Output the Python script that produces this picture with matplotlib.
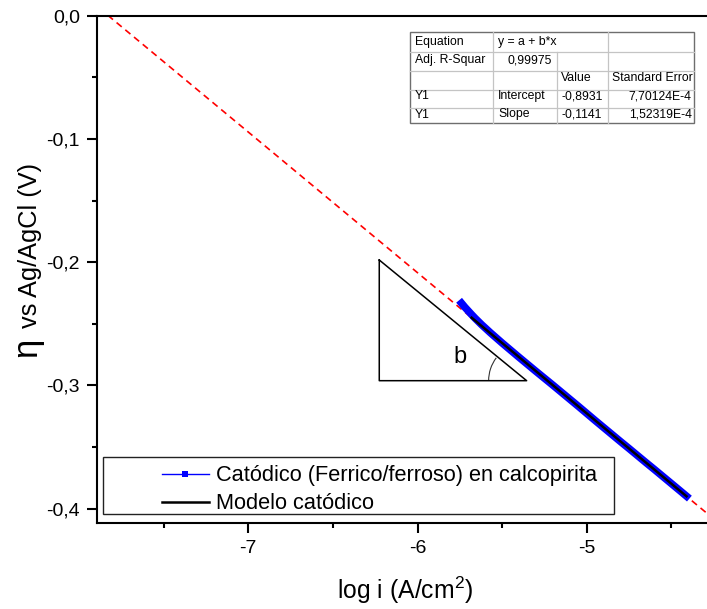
import matplotlib
matplotlib.use('Agg')
import matplotlib.pyplot as plt
from matplotlib.patches import Rectangle, Arc
from matplotlib.lines import Line2D

plt.rcParams['font.family'] = ['Liberation Sans', 'DejaVu Sans']
plt.rcParams['mathtext.fontset'] = 'custom'
plt.rcParams['mathtext.rm'] = 'Liberation Sans'
plt.rcParams['mathtext.it'] = 'Liberation Sans:italic'
plt.rcParams['mathtext.bf'] = 'Liberation Sans:bold'

# ---------------- data ----------------
log_i = [-5.74, -5.72, -5.70, -5.68, -5.66, -5.64, -5.62, -5.60, -5.57, -5.54,
         -5.50, -5.45, -5.40, -5.35, -5.30, -5.25, -5.20, -5.15, -5.10, -5.05,
         -5.00, -4.95, -4.90, -4.85, -4.80, -4.75, -4.70, -4.65, -4.60, -4.55,
         -4.50, -4.45, -4.41]
eta = [-0.2332, -0.2365, -0.2395, -0.2425, -0.2454, -0.2481, -0.2508, -0.2533,
       -0.2571, -0.2607, -0.2655, -0.2713, -0.2771, -0.2828, -0.2885, -0.2941,
       -0.2997, -0.3054, -0.3111, -0.3168, -0.3226, -0.3284, -0.3341, -0.3398,
       -0.3455, -0.3511, -0.3568, -0.3625, -0.3681, -0.3738, -0.3795, -0.3852,
       -0.3898]
model_log_i = [-5.68, -4.41]
model_eta = [-0.2450, -0.3899]
fit_log_i = [-7.83, -4.29]
fit_eta = [0.0003, -0.4036]
triangle_log_i = [-6.226, -6.226, -5.355, -6.226]
triangle_eta = [-0.1982, -0.2961, -0.2961, -0.1982]

x_ticks = [-7, -6, -5]
x_tick_labels = ['-7', '-6', '-5']
x_minor = [-7.5, -6.5, -5.5, -4.5]
y_ticks = [0.0, -0.1, -0.2, -0.3, -0.4]
y_tick_labels = ['0,0', '-0,1', '-0,2', '-0,3', '-0,4']
y_minor = [-0.05, -0.15, -0.25, -0.35]

legend_labels = ['Catódico (Ferrico/ferroso) en calcopirita', 'Modelo catódico']

table_rows = [
    ['Equation', 'y = a + b*x', '', ''],
    ['Adj. R-Squar', '0,99975', '', ''],
    ['', '', 'Value', 'Standard Error'],
    ['Y1', 'Intercept', '-0,8931', '7,70124E-4'],
    ['Y1', 'Slope', '-0,1141', '1,52319E-4'],
]

# ---------------- figure ----------------
W, H = 707, 609
fig = plt.figure(figsize=(W / 100, H / 100), dpi=100)


def fx(x):
    return x / W


def fy(y):
    return 1 - y / H


ax_l, ax_t, ax_b = 96.7, 15.7, 523.3
ax = fig.add_axes([fx(ax_l), fy(ax_b), 1 - fx(ax_l), (ax_b - ax_t) / H])
ax.set_xlim(-7.896, -4.289)
ax.set_ylim(-0.4118, 0.0)

for s in ['left', 'bottom', 'top']:
    ax.spines[s].set_linewidth(1.5)
ax.spines['right'].set_visible(False)

ax.set_xticks(x_ticks)
ax.set_xticklabels(x_tick_labels)
ax.set_xticks(x_minor, minor=True)
ax.set_yticks(y_ticks)
ax.set_yticklabels(y_tick_labels)
ax.set_yticks(y_minor, minor=True)
ax.tick_params(which='major', direction='out', length=7.2, width=1.5, labelsize=14, pad=5)
ax.tick_params(which='minor', direction='out', length=3.6, width=1.5)
ax.tick_params(top=False, right=False, which='both')

# fit line (red dashed)
ax.plot(fit_log_i, fit_eta, color='#ff0000', lw=1.2, dashes=(4, 2.8), zorder=2)
# experimental band
ax.plot(log_i, eta, color='#0000ff', lw=5.4, solid_capstyle='projecting', zorder=3)
h_data, = ax.plot(log_i, eta, color='#0000ff', lw=1, marker='s', ms=3,
                  markeredgewidth=0, zorder=3)
h_model, = ax.plot(model_log_i, model_eta, color='black', lw=1.8, zorder=4)

# triangle
ax.plot(triangle_log_i, triangle_eta, color='black', lw=1.1, zorder=2)
arc = Arc((triangle_log_i[2], triangle_eta[2]), width=2 * 38 / 169.2, height=2 * 38 / 1232.5,
          theta1=174.1, theta2=180, color='#333333', lw=0.8)
ax.add_patch(arc)
ax.text(-5.749, -0.2769, 'b', fontsize=17, ha='center', va='center')

# legend frame + legend
ax.add_patch(Rectangle((fx(102.7), fy(514.3)), (614 - 102.7) / W, (514.3 - 457.3) / H,
                       transform=fig.transFigure, facecolor='white', clip_on=False,
                       edgecolor='#222222', lw=1, zorder=5))
leg = ax.legend([h_data, h_model], legend_labels, loc='upper left',
                bbox_to_anchor=(fx(161.7), fy(465.5)), bbox_transform=fig.transFigure,
                frameon=False, borderpad=0, borderaxespad=0, handlelength=2.17,
                handletextpad=0.33, labelspacing=0.32, fontsize=15.7, markerscale=1.45)
leg.set_zorder(6)

# table
cols = [410, 493.3, 556.7, 608.3, 694.3]
rows = [32.3, 51.7, 70.7, 90, 108.3, 123]
fig.add_artist(Rectangle((fx(cols[0]), fy(rows[-1])), (cols[-1] - cols[0]) / W,
                         (rows[-1] - rows[0]) / H, transform=fig.transFigure,
                         facecolor='white', edgecolor='#6e6e6e', lw=1, zorder=5))
inner = '#c4c4c4'
for r in rows[1:-1]:
    fig.add_artist(Line2D([fx(cols[0]), fx(cols[-1])], [fy(r), fy(r)],
                          transform=fig.transFigure, color=inner, lw=0.9, zorder=6))
for ci, c in enumerate(cols[1:-1], start=1):
    top = rows[1] if ci == 2 else rows[0]
    fig.add_artist(Line2D([fx(c), fx(c)], [fy(top), fy(rows[-1])],
                          transform=fig.transFigure, color=inner, lw=0.9, zorder=6))
baselines = [45.5, 63.5, 81.0, 99.3, 117.5]
for ri, row in enumerate(table_rows):
    for ci, txt in enumerate(row):
        if not txt:
            continue
        if ci == 0:
            x, ha = 415, 'left'
        elif ci == 1:
            x, ha = (552, 'right') if ri == 1 else (498.3, 'left')
        elif ci == 2:
            x, ha = 561, 'left'
        else:
            x, ha = (612.3, 'left') if ri == 2 else (691.7, 'right')
        fig.text(fx(x), fy(baselines[ri]), txt, fontsize=8.8, ha=ha, va='baseline', zorder=7)

# axis labels
fig.text(fx(36.7), fy(357), 'η', fontsize=25, rotation=90, rotation_mode='anchor',
         ha='left', va='baseline')
fig.text(fx(36.7), fy(328.3), 'vs Ag/AgCl (V)', fontsize=18.3, rotation=90,
         rotation_mode='anchor', ha='left', va='baseline')
fig.text(fx(337), fy(599), 'log i (A/cm$^2$)', fontsize=17.8, ha='left', va='baseline')

fig.savefig('out.png', dpi=100)
